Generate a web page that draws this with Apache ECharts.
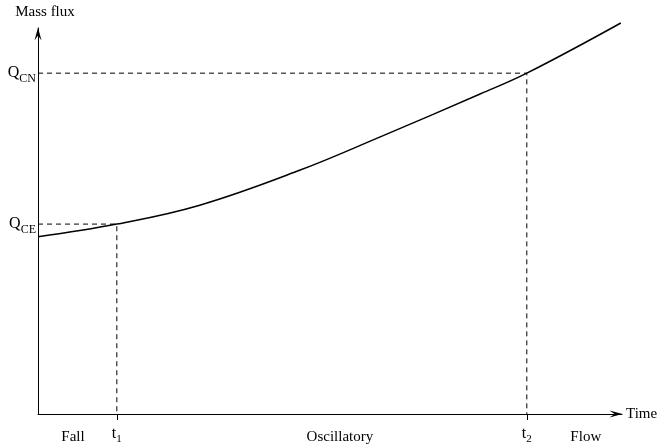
<!DOCTYPE html>
<html>
<head>
<meta charset="utf-8">
<script src="https://cdn.jsdelivr.net/npm/echarts@6/dist/echarts.min.js"></script>
<style>html,body{margin:0;padding:0;background:#fff;}#c{width:660px;height:446px;}</style>
</head>
<body>
<div id="c"></div>
<script>
// Data (arbitrary units)
var timeValues = [0, 1.35, 2.77, 4.49, 5.86, 7.57, 8.37, 9.98];
var fluxValues = [4.59, 4.92, 5.41, 6.32, 7.18, 8.29, 8.83, 10.13];
var keyTimes = [1.35, 8.37];            // t1, t2
var keyFlux = [4.92, 8.83];             // Q_CE, Q_CN
var keyFluxLabels = ['CE', 'CN'];
var regimeNames = ['Fall', 'Oscillatory', 'Flow'];
var regimeCenters = [0.6, 5.17, 9.38];

var font = 'Liberation Serif';
var curve = timeValues.map(function (t, i) { return [t, fluxValues[i]]; });

function dashed(i) {
  return {
    type: 'line', symbol: 'none', silent: true, clip: false,
    data: [[0, keyFlux[i]], [keyTimes[i], keyFlux[i]], [keyTimes[i], 0]],
    lineStyle: { color: '#000', width: 1, type: [5, 4] }
  };
}

var xLabelValues = regimeCenters.concat(keyTimes).sort(function (a, b) { return a - b; });

var arrowPath = 'path://M0,13 L3.5,0 L7,13 L3.5,8 Z';

var option = {
  animation: false,
  backgroundColor: '#fff',
  grid: { left: 38, right: 38, top: 28, bottom: 32, containLabel: false, outerBoundsMode: 'none' },
  xAxis: {
    type: 'value', min: 0, max: 10,
    name: 'Time', nameLocation: 'end', nameGap: 4,
    nameTextStyle: { fontFamily: font, fontSize: 15, color: '#000', verticalAlign: 'middle' },
    axisLine: { show: true, lineStyle: { color: '#000', width: 1 }, symbol: ['none', arrowPath], symbolSize: [7, 13], symbolOffset: [0, -6] },
    axisTick: { show: true, customValues: keyTimes, length: 6, lineStyle: { color: '#000' } },
    splitLine: { show: false },
    axisLabel: {
      customValues: xLabelValues, margin: 12, color: '#000', fontFamily: font, fontSize: 14,
      formatter: function (v) {
        var ki = keyTimes.indexOf(v);
        if (ki >= 0) return '{a|t}{s|' + (ki + 1) + '}';
        var ri = regimeCenters.indexOf(v);
        return '{r|' + regimeNames[ri] + '}';
      },
      rich: {
        a: { fontFamily: font, fontSize: 16, color: '#000', verticalAlign: 'bottom' },
        s: { fontFamily: font, fontSize: 11, color: '#000', verticalAlign: 'bottom', padding: [0, 0, -3, 0] },
        r: { fontFamily: font, fontSize: 15, color: '#000', padding: [4, 0, 0, 0] }
      }
    }
  },
  yAxis: {
    type: 'value', min: 0, max: 10,
    name: 'Mass flux', nameLocation: 'end', nameGap: 8,
    nameTextStyle: { fontFamily: font, fontSize: 15, color: '#000', align: 'center', padding: [0, 0, 0, 14] },
    axisLine: { show: true, lineStyle: { color: '#000', width: 1 }, symbol: ['none', arrowPath], symbolSize: [7, 13], symbolOffset: [0, -6] },
    axisTick: { show: false },
    splitLine: { show: false },
    axisLabel: {
      customValues: keyFlux, margin: 2, color: '#000', fontFamily: font,
      formatter: function (v) {
        var ki = keyFlux.indexOf(v);
        return '{a|Q}{s|' + keyFluxLabels[ki] + '}';
      },
      rich: {
        a: { fontFamily: font, fontSize: 16, color: '#000', verticalAlign: 'bottom' },
        s: { fontFamily: font, fontSize: 12, color: '#000', verticalAlign: 'bottom', padding: [0, 0, -4, 0] }
      }
    }
  },
  series: [
    {
      type: 'line', smooth: 0.4, symbol: 'none', clip: false,
      data: curve,
      lineStyle: { color: '#000', width: 1.5 }
    },
    dashed(0),
    dashed(1)
  ]
};
echarts.init(document.getElementById('c'), null, { renderer: 'canvas' }).setOption(option);
</script>
</body>
</html>
